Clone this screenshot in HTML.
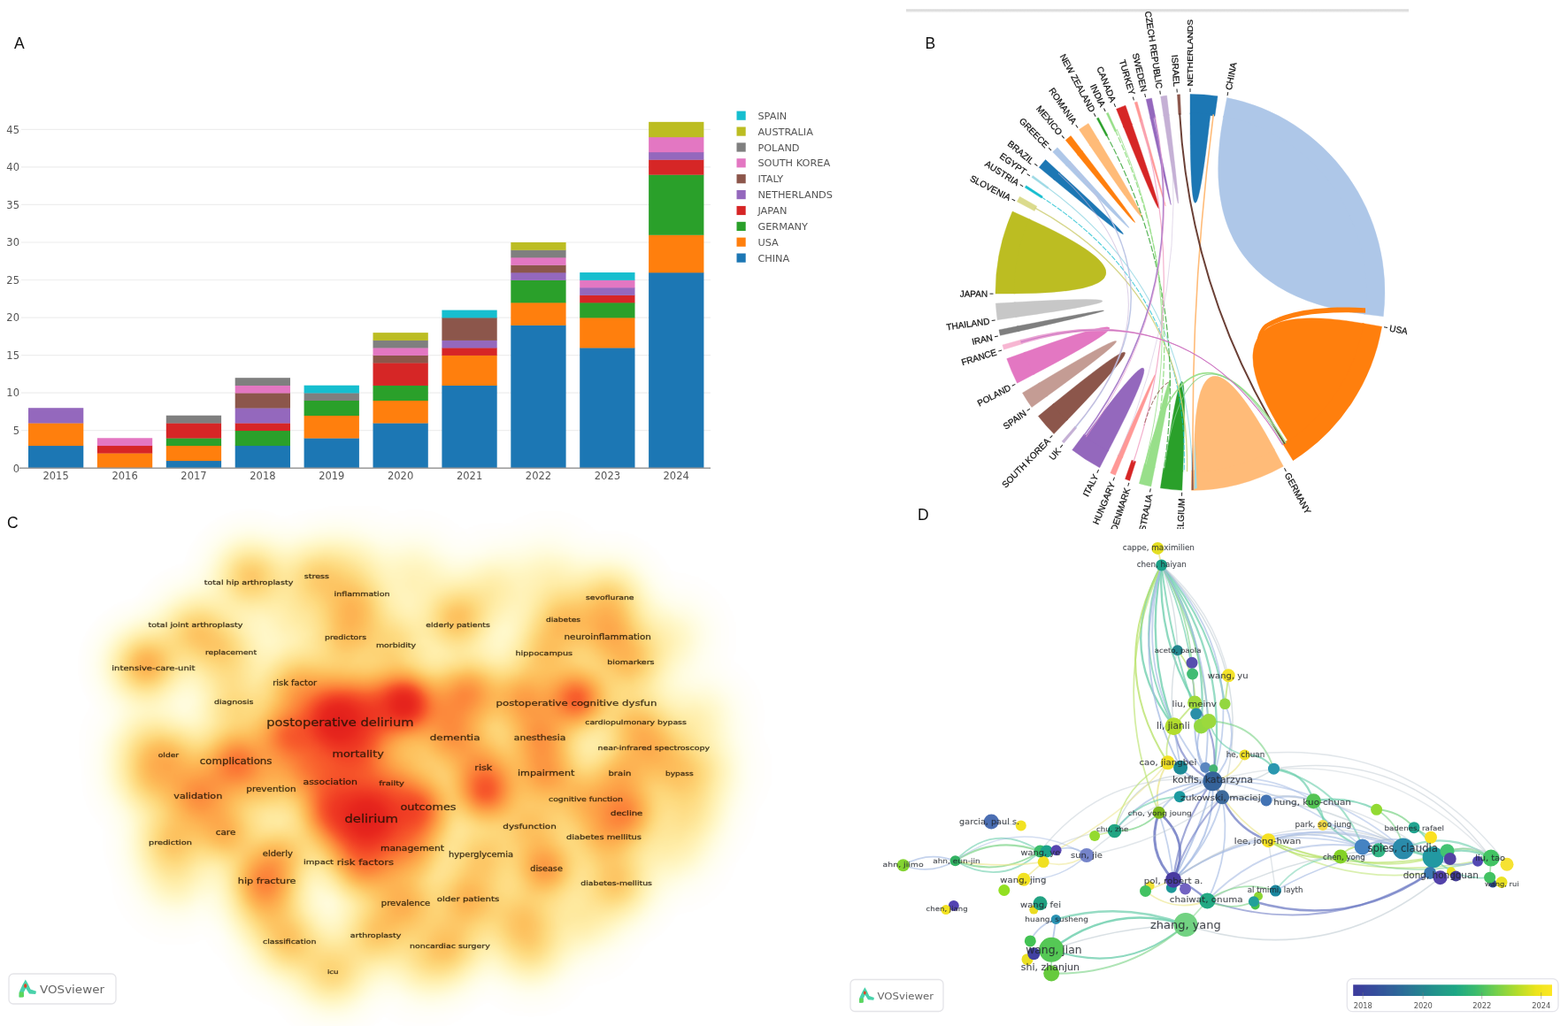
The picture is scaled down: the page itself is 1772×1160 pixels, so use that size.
<!DOCTYPE html>
<html lang="en"><head><meta charset="utf-8"><title>Figure</title>
<style>
html,body{margin:0;padding:0;background:#fff;}
body{width:1772px;height:1160px;overflow:hidden;position:relative;font-family:"Liberation Sans",sans-serif;}
svg{position:absolute;left:0;top:0;display:block;}
</style></head><body>
<svg width="1772" height="1160" viewBox="0 0 1772 1160">
<defs>
<filter id="soft" x="-5%" y="-20%" width="110%" height="140%"><feGaussianBlur stdDeviation="0.55"/></filter>
<filter id="soft2" x="-5%" y="-5%" width="110%" height="110%"><feGaussianBlur stdDeviation="0.5"/></filter>
</defs>
<rect width="1772" height="1160" fill="#ffffff"/>
<g id="panelA">
<text x="16" y="55" font-family="Liberation Sans, sans-serif" font-size="17.5" fill="#111">A</text>
<line x1="24" x2="803" y1="486.7" y2="486.7" stroke="#eeeeee" stroke-width="1.2"/>
<line x1="24" x2="803" y1="444.2" y2="444.2" stroke="#eeeeee" stroke-width="1.2"/>
<line x1="24" x2="803" y1="401.6" y2="401.6" stroke="#eeeeee" stroke-width="1.2"/>
<line x1="24" x2="803" y1="359.1" y2="359.1" stroke="#eeeeee" stroke-width="1.2"/>
<line x1="24" x2="803" y1="316.5" y2="316.5" stroke="#eeeeee" stroke-width="1.2"/>
<line x1="24" x2="803" y1="274.0" y2="274.0" stroke="#eeeeee" stroke-width="1.2"/>
<line x1="24" x2="803" y1="231.4" y2="231.4" stroke="#eeeeee" stroke-width="1.2"/>
<line x1="24" x2="803" y1="188.9" y2="188.9" stroke="#eeeeee" stroke-width="1.2"/>
<line x1="24" x2="803" y1="146.3" y2="146.3" stroke="#eeeeee" stroke-width="1.2"/>
<g font-family="DejaVu Sans, Verdana, sans-serif" font-size="11.5" fill="#555" filter="url(#soft)">
<text x="22" y="533.5" text-anchor="end">0</text>
<text x="22" y="490.9" text-anchor="end">5</text>
<text x="22" y="448.4" text-anchor="end">10</text>
<text x="22" y="405.8" text-anchor="end">15</text>
<text x="22" y="363.3" text-anchor="end">20</text>
<text x="22" y="320.7" text-anchor="end">25</text>
<text x="22" y="278.2" text-anchor="end">30</text>
<text x="22" y="235.6" text-anchor="end">35</text>
<text x="22" y="193.1" text-anchor="end">40</text>
<text x="22" y="150.5" text-anchor="end">45</text>
<text x="63.1" y="542.3" text-anchor="middle">2015</text>
<text x="141.1" y="542.3" text-anchor="middle">2016</text>
<text x="219.0" y="542.3" text-anchor="middle">2017</text>
<text x="296.9" y="542.3" text-anchor="middle">2018</text>
<text x="374.8" y="542.3" text-anchor="middle">2019</text>
<text x="452.6" y="542.3" text-anchor="middle">2020</text>
<text x="530.6" y="542.3" text-anchor="middle">2021</text>
<text x="608.5" y="542.3" text-anchor="middle">2022</text>
<text x="686.4" y="542.3" text-anchor="middle">2023</text>
<text x="764.2" y="542.3" text-anchor="middle">2024</text>
</g>
<g filter="url(#soft2)">
<rect x="32.0" y="503.77" width="62.3" height="25.83" fill="#1f77b4"/>
<rect x="32.0" y="478.24" width="62.3" height="25.83" fill="#ff7f0e"/>
<rect x="32.0" y="461.22" width="62.3" height="17.32" fill="#9467bd"/>
<rect x="109.9" y="512.28" width="62.3" height="17.32" fill="#ff7f0e"/>
<rect x="109.9" y="503.77" width="62.3" height="8.81" fill="#d62728"/>
<rect x="109.9" y="495.26" width="62.3" height="8.81" fill="#e377c2"/>
<rect x="187.8" y="520.79" width="62.3" height="8.81" fill="#1f77b4"/>
<rect x="187.8" y="503.77" width="62.3" height="17.32" fill="#ff7f0e"/>
<rect x="187.8" y="495.26" width="62.3" height="8.81" fill="#2ca02c"/>
<rect x="187.8" y="478.24" width="62.3" height="17.32" fill="#d62728"/>
<rect x="187.8" y="469.73" width="62.3" height="8.81" fill="#7f7f7f"/>
<rect x="265.7" y="503.77" width="62.3" height="25.83" fill="#1f77b4"/>
<rect x="265.7" y="486.75" width="62.3" height="17.32" fill="#2ca02c"/>
<rect x="265.7" y="478.24" width="62.3" height="8.81" fill="#d62728"/>
<rect x="265.7" y="461.22" width="62.3" height="17.32" fill="#9467bd"/>
<rect x="265.7" y="444.20" width="62.3" height="17.32" fill="#8c564b"/>
<rect x="265.7" y="435.69" width="62.3" height="8.81" fill="#e377c2"/>
<rect x="265.7" y="427.18" width="62.3" height="8.81" fill="#7f7f7f"/>
<rect x="343.6" y="495.26" width="62.3" height="34.34" fill="#1f77b4"/>
<rect x="343.6" y="469.73" width="62.3" height="25.83" fill="#ff7f0e"/>
<rect x="343.6" y="452.71" width="62.3" height="17.32" fill="#2ca02c"/>
<rect x="343.6" y="444.20" width="62.3" height="8.81" fill="#7f7f7f"/>
<rect x="343.6" y="435.69" width="62.3" height="8.81" fill="#17becf"/>
<rect x="421.5" y="478.24" width="62.3" height="51.36" fill="#1f77b4"/>
<rect x="421.5" y="452.71" width="62.3" height="25.83" fill="#ff7f0e"/>
<rect x="421.5" y="435.69" width="62.3" height="17.32" fill="#2ca02c"/>
<rect x="421.5" y="410.16" width="62.3" height="25.83" fill="#d62728"/>
<rect x="421.5" y="401.65" width="62.3" height="8.81" fill="#8c564b"/>
<rect x="421.5" y="393.14" width="62.3" height="8.81" fill="#e377c2"/>
<rect x="421.5" y="384.63" width="62.3" height="8.81" fill="#7f7f7f"/>
<rect x="421.5" y="376.12" width="62.3" height="8.81" fill="#bcbd22"/>
<rect x="499.4" y="435.69" width="62.3" height="93.91" fill="#1f77b4"/>
<rect x="499.4" y="401.65" width="62.3" height="34.34" fill="#ff7f0e"/>
<rect x="499.4" y="393.14" width="62.3" height="8.81" fill="#d62728"/>
<rect x="499.4" y="384.63" width="62.3" height="8.81" fill="#9467bd"/>
<rect x="499.4" y="359.10" width="62.3" height="25.83" fill="#8c564b"/>
<rect x="499.4" y="350.59" width="62.3" height="8.81" fill="#17becf"/>
<rect x="577.3" y="367.61" width="62.3" height="161.99" fill="#1f77b4"/>
<rect x="577.3" y="342.08" width="62.3" height="25.83" fill="#ff7f0e"/>
<rect x="577.3" y="316.55" width="62.3" height="25.83" fill="#2ca02c"/>
<rect x="577.3" y="308.04" width="62.3" height="8.81" fill="#9467bd"/>
<rect x="577.3" y="299.53" width="62.3" height="8.81" fill="#8c564b"/>
<rect x="577.3" y="291.02" width="62.3" height="8.81" fill="#e377c2"/>
<rect x="577.3" y="282.51" width="62.3" height="8.81" fill="#7f7f7f"/>
<rect x="577.3" y="274.00" width="62.3" height="8.81" fill="#bcbd22"/>
<rect x="655.2" y="393.14" width="62.3" height="136.46" fill="#1f77b4"/>
<rect x="655.2" y="359.10" width="62.3" height="34.34" fill="#ff7f0e"/>
<rect x="655.2" y="342.08" width="62.3" height="17.32" fill="#2ca02c"/>
<rect x="655.2" y="333.57" width="62.3" height="8.81" fill="#d62728"/>
<rect x="655.2" y="325.06" width="62.3" height="8.81" fill="#9467bd"/>
<rect x="655.2" y="316.55" width="62.3" height="8.81" fill="#e377c2"/>
<rect x="655.2" y="308.04" width="62.3" height="8.81" fill="#17becf"/>
<rect x="733.1" y="308.04" width="62.3" height="221.56" fill="#1f77b4"/>
<rect x="733.1" y="265.49" width="62.3" height="42.85" fill="#ff7f0e"/>
<rect x="733.1" y="197.41" width="62.3" height="68.38" fill="#2ca02c"/>
<rect x="733.1" y="180.39" width="62.3" height="17.32" fill="#d62728"/>
<rect x="733.1" y="171.88" width="62.3" height="8.81" fill="#9467bd"/>
<rect x="733.1" y="154.86" width="62.3" height="17.32" fill="#e377c2"/>
<rect x="733.1" y="137.84" width="62.3" height="17.32" fill="#bcbd22"/>
<line x1="22" x2="803" y1="529.3" y2="529.3" stroke="#999" stroke-width="1.6"/>
<rect x="832.5" y="125.6" width="10.2" height="10.2" fill="#17becf"/>
<rect x="832.5" y="143.5" width="10.2" height="10.2" fill="#bcbd22"/>
<rect x="832.5" y="161.4" width="10.2" height="10.2" fill="#7f7f7f"/>
<rect x="832.5" y="179.2" width="10.2" height="10.2" fill="#e377c2"/>
<rect x="832.5" y="197.1" width="10.2" height="10.2" fill="#8c564b"/>
<rect x="832.5" y="215.0" width="10.2" height="10.2" fill="#9467bd"/>
<rect x="832.5" y="232.9" width="10.2" height="10.2" fill="#d62728"/>
<rect x="832.5" y="250.8" width="10.2" height="10.2" fill="#2ca02c"/>
<rect x="832.5" y="268.6" width="10.2" height="10.2" fill="#ff7f0e"/>
<rect x="832.5" y="286.5" width="10.2" height="10.2" fill="#1f77b4"/>
</g>
<g font-family="DejaVu Sans, Verdana, sans-serif" font-size="11.3" fill="#555" filter="url(#soft)">
<text x="856.4" y="134.8">SPAIN</text>
<text x="856.4" y="152.7">AUSTRALIA</text>
<text x="856.4" y="170.6">POLAND</text>
<text x="856.4" y="188.4">SOUTH KOREA</text>
<text x="856.4" y="206.3">ITALY</text>
<text x="856.4" y="224.2">NETHERLANDS</text>
<text x="856.4" y="242.1">JAPAN</text>
<text x="856.4" y="260.0">GERMANY</text>
<text x="856.4" y="277.8">USA</text>
<text x="856.4" y="295.7">CHINA</text>
</g>
</g>
<g id="panelB">
<defs><linearGradient id="topbar" x1="0" y1="0" x2="0" y2="1"><stop offset="0" stop-color="#cfcfcf"/><stop offset="1" stop-color="#f4f4f4"/></linearGradient><clipPath id="clipB"><rect x="1000" y="0" width="700" height="598"/></clipPath></defs>
<rect x="1024" y="10.5" width="568" height="3.5" fill="url(#topbar)"/>
<text x="1045.5" y="55" font-family="Liberation Sans, sans-serif" font-size="17.5" fill="#111">B</text>
<g clip-path="url(#clipB)"><g transform="translate(1345,330.5) scale(0.9888,1.0067) translate(-1346.7,-330)">
<g filter="url(#soft2)">
<path d="M1346.7,107.5 A222.5,222.5 0 0 1 1378.1,109.7 L1374.9,132.0 A201.5,201.5 0 0 0 1346.7,130.0Z" fill="#1f77b4" stroke="#1f77b4" stroke-width="0.4"/>
<path d="M1346.7,128.5 A201.5,201.5 0 0 1 1369.9,129.8 Q1346.7,330.0 1346.7,128.5Z" fill="#1f77b4" stroke="#1f77b4" stroke-width="0.4"/>
<path d="M1388.8,111.5 A222.5,222.5 0 0 1 1567.5,357.1 L1545.2,354.4 A201.5,201.5 0 0 0 1384.5,133.6Z" fill="#aec7e8" stroke="#aec7e8" stroke-width="0.4"/>
<path d="M1384.8,132.1 A201.5,201.5 0 0 1 1546.7,354.6 Q1346.7,330.0 1384.8,132.1Z" fill="#aec7e8" stroke="#aec7e8" stroke-width="0.4"/>
<path d="M1565.8,368.6 A222.5,222.5 0 0 1 1464.3,518.9 L1452.4,499.8 A201.5,201.5 0 0 0 1543.7,364.7Z" fill="#ff7f0e" stroke="#ff7f0e" stroke-width="0.4"/>
<path d="M1545.1,365.0 A201.5,201.5 0 0 1 1458.8,497.4 Q1346.7,330.0 1545.1,365.0Z" fill="#ff7f0e" stroke="#ff7f0e" stroke-width="0.4"/>
<path d="M1453.2,525.4 A222.5,222.5 0 0 1 1348.3,552.5 L1348.1,530.0 A201.5,201.5 0 0 0 1442.4,505.6Z" fill="#ffbb78" stroke="#ffbb78" stroke-width="0.4"/>
<path d="M1443.2,506.9 A201.5,201.5 0 0 1 1351.6,531.4 Q1346.7,330.0 1443.2,506.9Z" fill="#ffbb78" stroke="#ffbb78" stroke-width="0.4"/>
<path d="M1337.4,552.3 A222.5,222.5 0 0 1 1312.7,549.9 L1316.1,527.6 A201.5,201.5 0 0 0 1338.3,529.8Z" fill="#2ca02c" stroke="#2ca02c" stroke-width="0.4"/>
<path d="M1338.3,531.3 A201.5,201.5 0 0 1 1317.3,529.3 Q1346.7,330.0 1338.3,531.3Z" fill="#2ca02c" stroke="#2ca02c" stroke-width="0.4"/>
<path d="M1302.0,548.0 A222.5,222.5 0 0 1 1288.4,544.7 L1294.3,523.0 A201.5,201.5 0 0 0 1306.5,525.9Z" fill="#98df8a" stroke="#98df8a" stroke-width="0.4"/>
<path d="M1306.2,527.4 A201.5,201.5 0 0 1 1295.9,525.0 Q1346.7,330.0 1306.2,527.4Z" fill="#98df8a" stroke="#98df8a" stroke-width="0.4"/>
<path d="M1277.6,541.5 A222.5,222.5 0 0 1 1272.4,539.7 L1279.9,518.5 A201.5,201.5 0 0 0 1284.6,520.1Z" fill="#d62728" stroke="#d62728" stroke-width="0.4"/>
<path d="M1261.2,535.4 A222.5,222.5 0 0 1 1255.5,532.9 L1264.7,512.4 A201.5,201.5 0 0 0 1269.8,514.6Z" fill="#ff9896" stroke="#ff9896" stroke-width="0.4"/>
<path d="M1269.3,516.0 A201.5,201.5 0 0 1 1264.1,513.8 Q1346.7,330.0 1269.3,516.0Z" fill="#ff9896" stroke="#ff9896" stroke-width="0.4"/>
<path d="M1243.3,527.0 A222.5,222.5 0 0 1 1211.9,507.0 L1225.5,489.1 A201.5,201.5 0 0 0 1253.7,507.1Z" fill="#9467bd" stroke="#9467bd" stroke-width="0.4"/>
<path d="M1253.0,508.4 A201.5,201.5 0 0 1 1226.6,491.8 Q1346.7,330.0 1253.0,508.4Z" fill="#9467bd" stroke="#9467bd" stroke-width="0.4"/>
<path d="M1202.5,499.4 A222.5,222.5 0 0 1 1200.1,497.4 L1215.0,480.5 A201.5,201.5 0 0 0 1217.1,482.3Z" fill="#c5b0d5" stroke="#c5b0d5" stroke-width="0.4"/>
<path d="M1191.0,489.0 A222.5,222.5 0 0 1 1173.1,469.1 L1190.6,455.0 A201.5,201.5 0 0 0 1206.8,472.9Z" fill="#8c564b" stroke="#8c564b" stroke-width="0.4"/>
<path d="M1205.7,474.0 A201.5,201.5 0 0 1 1189.4,456.0 Q1346.7,330.0 1205.7,474.0Z" fill="#8c564b" stroke="#8c564b" stroke-width="0.4"/>
<path d="M1165.6,459.2 A222.5,222.5 0 0 1 1155.0,442.9 L1174.4,431.5 A201.5,201.5 0 0 0 1183.9,446.1Z" fill="#c49c94" stroke="#c49c94" stroke-width="0.4"/>
<path d="M1182.7,447.0 A201.5,201.5 0 0 1 1173.1,432.3 Q1346.7,330.0 1182.7,447.0Z" fill="#c49c94" stroke="#c49c94" stroke-width="0.4"/>
<path d="M1149.0,432.0 A222.5,222.5 0 0 1 1137.1,404.6 L1158.3,397.1 A201.5,201.5 0 0 0 1169.0,421.7Z" fill="#e377c2" stroke="#e377c2" stroke-width="0.4"/>
<path d="M1167.6,422.4 A201.5,201.5 0 0 1 1156.9,397.6 Q1346.7,330.0 1167.6,422.4Z" fill="#e377c2" stroke="#e377c2" stroke-width="0.4"/>
<path d="M1133.7,394.3 A222.5,222.5 0 0 1 1132.2,389.1 L1153.9,383.1 A201.5,201.5 0 0 0 1155.2,387.8Z" fill="#f7b6d2" stroke="#f7b6d2" stroke-width="0.4"/>
<path d="M1129.6,378.5 A222.5,222.5 0 0 1 1128.2,372.1 L1150.3,367.8 A201.5,201.5 0 0 0 1151.5,373.6Z" fill="#7f7f7f" stroke="#7f7f7f" stroke-width="0.4"/>
<path d="M1150.1,374.0 A201.5,201.5 0 0 1 1148.8,368.1 Q1346.7,330.0 1150.1,374.0Z" fill="#7f7f7f" stroke="#7f7f7f" stroke-width="0.4"/>
<path d="M1126.4,361.0 A222.5,222.5 0 0 1 1124.5,342.4 L1147.0,341.2 A201.5,201.5 0 0 0 1148.6,357.8Z" fill="#c7c7c7" stroke="#c7c7c7" stroke-width="0.4"/>
<path d="M1147.2,358.0 A201.5,201.5 0 0 1 1145.5,341.2 Q1346.7,330.0 1147.2,358.0Z" fill="#c7c7c7" stroke="#c7c7c7" stroke-width="0.4"/>
<path d="M1124.2,331.6 A222.5,222.5 0 0 1 1143.6,239.1 L1164.1,248.3 A201.5,201.5 0 0 0 1146.7,331.4Z" fill="#bcbd22" stroke="#bcbd22" stroke-width="0.4"/>
<path d="M1145.2,331.4 A201.5,201.5 0 0 1 1162.8,247.7 Q1346.7,330.0 1145.2,331.4Z" fill="#bcbd22" stroke="#bcbd22" stroke-width="0.4"/>
<path d="M1148.8,228.3 A222.5,222.5 0 0 1 1151.9,222.5 L1171.6,233.3 A201.5,201.5 0 0 0 1168.8,238.6Z" fill="#dbdb8d" stroke="#dbdb8d" stroke-width="0.4"/>
<path d="M1157.8,212.4 A222.5,222.5 0 0 1 1159.3,210.1 L1178.2,222.2 A201.5,201.5 0 0 0 1176.9,224.3Z" fill="#17becf" stroke="#17becf" stroke-width="0.4"/>
<path d="M1165.6,200.8 A222.5,222.5 0 0 1 1166.9,198.9 L1185.1,212.2 A201.5,201.5 0 0 0 1183.9,213.9Z" fill="#9edae5" stroke="#9edae5" stroke-width="0.4"/>
<path d="M1174.0,189.7 A222.5,222.5 0 0 1 1181.4,181.1 L1198.1,196.2 A201.5,201.5 0 0 0 1191.5,203.9Z" fill="#1f77b4" stroke="#1f77b4" stroke-width="0.4"/>
<path d="M1190.3,202.9 A201.5,201.5 0 0 1 1197.0,195.2 Q1346.7,330.0 1190.3,202.9Z" fill="#1f77b4" stroke="#1f77b4" stroke-width="0.4"/>
<path d="M1189.6,172.4 A222.5,222.5 0 0 1 1195.0,167.3 L1210.3,183.7 A201.5,201.5 0 0 0 1205.5,188.3Z" fill="#aec7e8" stroke="#aec7e8" stroke-width="0.4"/>
<path d="M1204.5,187.3 A201.5,201.5 0 0 1 1209.3,182.6 Q1346.7,330.0 1204.5,187.3Z" fill="#aec7e8" stroke="#aec7e8" stroke-width="0.4"/>
<path d="M1204.3,159.1 A222.5,222.5 0 0 1 1210.3,154.2 L1224.1,172.0 A201.5,201.5 0 0 0 1218.7,176.3Z" fill="#ff7f0e" stroke="#ff7f0e" stroke-width="0.4"/>
<path d="M1217.7,175.2 A201.5,201.5 0 0 1 1223.2,170.8 Q1346.7,330.0 1217.7,175.2Z" fill="#ff7f0e" stroke="#ff7f0e" stroke-width="0.4"/>
<path d="M1219.7,147.3 A222.5,222.5 0 0 1 1230.4,140.3 L1242.2,159.5 A201.5,201.5 0 0 0 1232.6,165.8Z" fill="#ffbb78" stroke="#ffbb78" stroke-width="0.4"/>
<path d="M1231.7,164.5 A201.5,201.5 0 0 1 1241.4,158.2 Q1346.7,330.0 1231.7,164.5Z" fill="#ffbb78" stroke="#ffbb78" stroke-width="0.4"/>
<path d="M1239.9,134.8 A222.5,222.5 0 0 1 1241.9,133.7 L1252.5,153.6 A201.5,201.5 0 0 0 1250.7,154.6Z" fill="#2ca02c" stroke="#2ca02c" stroke-width="0.4"/>
<path d="M1250.9,129.2 A222.5,222.5 0 0 1 1253.0,128.2 L1262.5,148.6 A201.5,201.5 0 0 0 1260.6,149.5Z" fill="#98df8a" stroke="#98df8a" stroke-width="0.4"/>
<path d="M1262.3,124.1 A222.5,222.5 0 0 1 1272.8,120.1 L1280.3,141.4 A201.5,201.5 0 0 0 1270.8,145.0Z" fill="#d62728" stroke="#d62728" stroke-width="0.4"/>
<path d="M1270.2,143.6 A201.5,201.5 0 0 1 1279.8,139.9 Q1346.7,330.0 1270.2,143.6Z" fill="#d62728" stroke="#d62728" stroke-width="0.4"/>
<path d="M1283.1,116.8 A222.5,222.5 0 0 1 1286.1,115.9 L1292.2,137.6 A201.5,201.5 0 0 0 1289.6,138.3Z" fill="#ff9896" stroke="#ff9896" stroke-width="0.4"/>
<path d="M1289.1,136.9 A201.5,201.5 0 0 1 1291.8,136.1 Q1346.7,330.0 1289.1,136.9Z" fill="#ff9896" stroke="#ff9896" stroke-width="0.4"/>
<path d="M1296.3,113.3 A222.5,222.5 0 0 1 1302.7,111.9 L1307.2,133.9 A201.5,201.5 0 0 0 1301.4,135.2Z" fill="#9467bd" stroke="#9467bd" stroke-width="0.4"/>
<path d="M1301.0,133.7 A201.5,201.5 0 0 1 1304.5,133.0 Q1346.7,330.0 1301.0,133.7Z" fill="#9467bd" stroke="#9467bd" stroke-width="0.4"/>
<path d="M1313.0,110.1 A222.5,222.5 0 0 1 1320.0,109.1 L1322.7,131.4 A201.5,201.5 0 0 0 1316.4,132.3Z" fill="#c5b0d5" stroke="#c5b0d5" stroke-width="0.4"/>
<path d="M1316.2,130.8 A201.5,201.5 0 0 1 1322.5,130.0 Q1346.7,330.0 1316.2,130.8Z" fill="#c5b0d5" stroke="#c5b0d5" stroke-width="0.4"/>
<path d="M1332.0,108.0 A222.5,222.5 0 0 1 1335.1,107.8 L1336.2,130.3 A201.5,201.5 0 0 0 1333.4,130.4Z" fill="#8c564b" stroke="#8c564b" stroke-width="0.4"/>
</g>
<g filter="url(#soft2)" id="links">
<path d="M1183.3,212.1 Q1346.7,330.0 1348.8,531.5" fill="none" stroke="#9edae5" stroke-width="1.1" opacity="0.9"/>
<path d="M1176.2,222.6 Q1346.7,330.0 1339.7,531.4" fill="none" stroke="#17becf" stroke-width="1.1" opacity="0.75" stroke-dasharray="6 1.5"/>
<path d="M1169.0,235.1 Q1346.7,330.0 1343.2,531.5" fill="none" stroke="#d2d27e" stroke-width="1.4" opacity="0.9"/>
<path d="M1208.3,183.6 Q1346.7,330.0 1215.0,482.5" fill="none" stroke="#b9c3e4" stroke-width="1.4" opacity="0.95"/>
<path d="M1214.5,482.1 Q1346.7,330.0 1196.0,196.2" fill="none" stroke="#c5b0d5" stroke-width="1.0" opacity="0.6"/>
<path d="M1250.9,152.8 Q1346.7,330.0 1316.6,529.2" fill="none" stroke="#2ca02c" stroke-width="1.2" opacity="0.8" stroke-dasharray="7 2"/>
<path d="M1260.9,147.7 Q1346.7,330.0 1301.4,526.3" fill="none" stroke="#98df8a" stroke-width="1.3" opacity="0.95" stroke-dasharray="7 2"/>
<path d="M1262.8,146.8 Q1346.7,330.0 1294.5,524.6" fill="none" stroke="#98df8a" stroke-width="1.0" opacity="0.8"/>
<path d="M1290.8,136.4 Q1346.7,330.0 1281.8,520.7" fill="none" stroke="#f2a6c6" stroke-width="1.2" opacity="0.9"/>
<path d="M1305.8,132.7 Q1346.7,330.0 1225.4,490.9" fill="none" stroke="#a77bc9" stroke-width="1.6" opacity="0.95"/>
<path d="M1306.9,132.5 Q1346.7,330.0 1227.7,492.6" fill="none" stroke="#e79bd0" stroke-width="0.9" opacity="0.8"/>
<path d="M1321.8,130.0 Q1346.7,330.0 1264.7,514.1" fill="none" stroke="#c5b0d5" stroke-width="0.8" opacity="0.6"/>
<path d="M1373.3,130.3 Q1346.7,330.0 1350.2,531.5" fill="none" stroke="#ffbb78" stroke-width="1.6" opacity="1"/>
<path d="M1334.7,128.9 Q1346.7,330.0 1454.7,500.1" fill="none" stroke="#6b3f36" stroke-width="2.0" opacity="1"/>
<path d="M1294.9,524.7 Q1346.7,330.0 1456.1,499.2" fill="none" stroke="#98df8a" stroke-width="1.6" opacity="0.95"/>
<path d="M1316.2,529.2 Q1346.7,330.0 1453.8,500.7" fill="none" stroke="#7fcf86" stroke-width="1.0" opacity="0.8"/>
<path d="M1153.8,388.2 A201.5,201.5 0 0 1 1152.4,383.5 Q1346.7,330.0 1452.9,501.3 A201.5,201.5 0 0 1 1452.0,501.8 Q1346.7,330.0 1153.8,388.2Z" fill="#e9a3d3" opacity="1"/>
<path d="M1153.1,385.9 Q1346.7,330.0 1452.6,501.4" fill="none" stroke="#c86fc0" stroke-width="1.0" opacity="0.9"/>
<path d="M1322,431 Q1306,440 1294,479" fill="none" stroke="#8c564b" stroke-width="1" stroke-dasharray="5 2" opacity="0.8"/>
<path d="M1349.5,500 L1350.5,552 L1348.3,552 Z" fill="#8c564b"/>
<path d="M1352,495 L1354.5,550 L1351.5,551 Z" fill="#9edae5"/>
<path d="M1547,347.6 L1547,353 C1500,351 1462,354.5 1436,369 C1427,375 1423.5,386 1423,397 C1421.5,385 1424,373 1432,366 C1456,350 1500,344.5 1547,347.6 Z" fill="#ff7f0e"/>
</g>
<g font-family="Liberation Sans, Arial, sans-serif" font-size="10.1" fill="#111" stroke="#111" stroke-width="0.25" filter="url(#soft)">
<line x1="1346.7" y1="105.0" x2="1346.7" y2="101.0" stroke="#222" stroke-width="1"/>
<text transform="translate(1346.7,98.5) rotate(-90.0)" dy="3.5">NETHERLANDS</text>
<line x1="1389.2" y1="109.1" x2="1390.0" y2="105.1" stroke="#222" stroke-width="1"/>
<text transform="translate(1390.5,102.7) rotate(-79.1)" dy="3.5">CHINA</text>
<line x1="1568.3" y1="369.1" x2="1572.2" y2="369.8" stroke="#222" stroke-width="1"/>
<text transform="translate(1574.7,370.2) rotate(10.0)" dy="3.5">USA</text>
<line x1="1454.4" y1="527.5" x2="1456.3" y2="531.1" stroke="#222" stroke-width="1"/>
<text transform="translate(1457.5,533.3) rotate(61.4)" dy="3.5">GERMANY</text>
<line x1="1337.3" y1="554.8" x2="1337.1" y2="558.8" stroke="#222" stroke-width="1"/>
<text transform="translate(1337.0,561.3) rotate(272.4)" dy="3.5" text-anchor="end">BELGIUM</text>
<line x1="1301.5" y1="550.4" x2="1300.7" y2="554.3" stroke="#222" stroke-width="1"/>
<text transform="translate(1300.2,556.8) rotate(281.6)" dy="3.5" text-anchor="end">AUSTRALIA</text>
<line x1="1276.8" y1="543.9" x2="1275.6" y2="547.7" stroke="#222" stroke-width="1"/>
<text transform="translate(1274.8,550.0) rotate(288.1)" dy="3.5" text-anchor="end">DENMARK</text>
<line x1="1260.2" y1="537.7" x2="1258.7" y2="541.4" stroke="#222" stroke-width="1"/>
<text transform="translate(1257.7,543.7) rotate(292.6)" dy="3.5" text-anchor="end">HUNGARY</text>
<line x1="1242.1" y1="529.2" x2="1240.3" y2="532.8" stroke="#222" stroke-width="1"/>
<text transform="translate(1239.1,535.0) rotate(297.7)" dy="3.5" text-anchor="end">ITALY</text>
<line x1="1200.9" y1="501.3" x2="1198.3" y2="504.4" stroke="#222" stroke-width="1"/>
<text transform="translate(1196.7,506.3) rotate(310.4)" dy="3.5" text-anchor="end">UK</text>
<line x1="1189.3" y1="490.8" x2="1186.5" y2="493.6" stroke="#222" stroke-width="1"/>
<text transform="translate(1184.7,495.4) rotate(314.4)" dy="3.5" text-anchor="end">SOUTH KOREA</text>
<line x1="1163.5" y1="460.7" x2="1160.3" y2="463.0" stroke="#222" stroke-width="1"/>
<text transform="translate(1158.2,464.4) rotate(324.5)" dy="3.5" text-anchor="end">SPAIN</text>
<line x1="1146.8" y1="433.2" x2="1143.2" y2="435.0" stroke="#222" stroke-width="1"/>
<text transform="translate(1141.0,436.2) rotate(332.7)" dy="3.5" text-anchor="end">POLAND</text>
<line x1="1131.3" y1="395.0" x2="1127.5" y2="396.2" stroke="#222" stroke-width="1"/>
<text transform="translate(1125.1,396.9) rotate(343.2)" dy="3.5" text-anchor="end">FRANCE</text>
<line x1="1127.1" y1="379.1" x2="1123.2" y2="380.0" stroke="#222" stroke-width="1"/>
<text transform="translate(1120.8,380.5) rotate(347.4)" dy="3.5" text-anchor="end">IRAN</text>
<line x1="1123.9" y1="361.3" x2="1119.9" y2="361.9" stroke="#222" stroke-width="1"/>
<text transform="translate(1117.5,362.2) rotate(352.0)" dy="3.5" text-anchor="end">THAILAND</text>
<line x1="1121.7" y1="331.6" x2="1117.7" y2="331.6" stroke="#222" stroke-width="1"/>
<text transform="translate(1115.2,331.6) rotate(359.6)" dy="3.5" text-anchor="end">JAPAN</text>
<line x1="1146.6" y1="227.2" x2="1143.0" y2="225.3" stroke="#222" stroke-width="1"/>
<text transform="translate(1140.8,224.2) rotate(387.2)" dy="3.5" text-anchor="end">SLOVENIA</text>
<line x1="1155.7" y1="211.1" x2="1152.3" y2="209.0" stroke="#222" stroke-width="1"/>
<text transform="translate(1150.2,207.7) rotate(391.9)" dy="3.5" text-anchor="end">AUSTRIA</text>
<line x1="1163.5" y1="199.3" x2="1160.3" y2="197.0" stroke="#222" stroke-width="1"/>
<text transform="translate(1158.2,195.6) rotate(395.5)" dy="3.5" text-anchor="end">EGYPT</text>
<line x1="1172.1" y1="188.1" x2="1169.0" y2="185.6" stroke="#222" stroke-width="1"/>
<text transform="translate(1167.0,184.0) rotate(399.1)" dy="3.5" text-anchor="end">BRAZIL</text>
<line x1="1187.9" y1="170.6" x2="1185.1" y2="167.8" stroke="#222" stroke-width="1"/>
<text transform="translate(1183.3,166.0) rotate(405.1)" dy="3.5" text-anchor="end">GREECE</text>
<line x1="1202.7" y1="157.1" x2="1200.1" y2="154.1" stroke="#222" stroke-width="1"/>
<text transform="translate(1198.5,152.1) rotate(410.2)" dy="3.5" text-anchor="end">MEXICO</text>
<line x1="1218.3" y1="145.2" x2="1216.0" y2="142.0" stroke="#222" stroke-width="1"/>
<text transform="translate(1214.6,139.9) rotate(415.2)" dy="3.5" text-anchor="end">ROMANIA</text>
<line x1="1238.6" y1="132.6" x2="1236.7" y2="129.1" stroke="#222" stroke-width="1"/>
<text transform="translate(1235.5,126.9) rotate(421.3)" dy="3.5" text-anchor="end">NEW ZEALAND</text>
<line x1="1249.8" y1="126.9" x2="1248.1" y2="123.3" stroke="#222" stroke-width="1"/>
<text transform="translate(1247.0,121.1) rotate(424.5)" dy="3.5" text-anchor="end">INDIA</text>
<line x1="1261.3" y1="121.8" x2="1259.8" y2="118.1" stroke="#222" stroke-width="1"/>
<text transform="translate(1258.9,115.8) rotate(427.7)" dy="3.5" text-anchor="end">CANADA</text>
<line x1="1282.4" y1="114.4" x2="1281.3" y2="110.5" stroke="#222" stroke-width="1"/>
<text transform="translate(1280.6,108.1) rotate(433.4)" dy="3.5" text-anchor="end">TURKEY</text>
<line x1="1295.7" y1="110.9" x2="1294.8" y2="107.0" stroke="#222" stroke-width="1"/>
<text transform="translate(1294.2,104.5) rotate(436.9)" dy="3.5" text-anchor="end">SWEDEN</text>
<line x1="1312.7" y1="107.6" x2="1312.1" y2="103.6" stroke="#222" stroke-width="1"/>
<text transform="translate(1311.7,101.2) rotate(441.3)" dy="3.5" text-anchor="end">CZECH REPUBLIC</text>
<line x1="1331.8" y1="105.5" x2="1331.5" y2="101.5" stroke="#222" stroke-width="1"/>
<text transform="translate(1331.4,99.0) rotate(446.2)" dy="3.5" text-anchor="end">ISRAEL</text>
</g>
</g></g>
</g>
<g id="panelC">
<defs><radialGradient id="gk"><stop offset="0.000" stop-color="#fff" stop-opacity="1.0000"/><stop offset="0.083" stop-color="#fff" stop-opacity="0.9692"/><stop offset="0.167" stop-color="#fff" stop-opacity="0.8825"/><stop offset="0.250" stop-color="#fff" stop-opacity="0.7548"/><stop offset="0.333" stop-color="#fff" stop-opacity="0.6065"/><stop offset="0.417" stop-color="#fff" stop-opacity="0.4578"/><stop offset="0.500" stop-color="#fff" stop-opacity="0.3247"/><stop offset="0.583" stop-color="#fff" stop-opacity="0.2163"/><stop offset="0.667" stop-color="#fff" stop-opacity="0.1353"/><stop offset="0.750" stop-color="#fff" stop-opacity="0.0796"/><stop offset="0.833" stop-color="#fff" stop-opacity="0.0439"/><stop offset="0.917" stop-color="#fff" stop-opacity="0.0228"/><stop offset="1.000" stop-color="#fff" stop-opacity="0.0000"/></radialGradient>
<filter id="heat" x="0" y="572" width="890" height="588" filterUnits="userSpaceOnUse" color-interpolation-filters="sRGB"><feGaussianBlur stdDeviation="2"/><feComponentTransfer><feFuncR type="table" tableValues="1.000 1.000 1.000 1.000 1.000 1.000 1.000 1.000 0.999 0.998 0.996 0.996 0.996 0.996 0.995 0.994 0.993 0.992 0.990 0.989 0.987 0.981 0.975 0.967 0.957 0.947 0.937 0.927 0.918 0.908 0.901 0.894 0.886"/><feFuncG type="table" tableValues="1.000 0.998 0.993 0.984 0.974 0.958 0.942 0.926 0.903 0.880 0.857 0.826 0.793 0.760 0.725 0.688 0.651 0.612 0.569 0.526 0.482 0.432 0.381 0.337 0.298 0.259 0.225 0.201 0.176 0.155 0.145 0.135 0.125"/><feFuncB type="table" tableValues="1.000 0.953 0.904 0.850 0.796 0.747 0.698 0.649 0.600 0.551 0.502 0.458 0.415 0.372 0.339 0.315 0.290 0.268 0.250 0.231 0.213 0.196 0.179 0.167 0.157 0.147 0.138 0.131 0.124 0.117 0.115 0.112 0.110"/></feComponentTransfer></filter><filter id="softc" x="-5%" y="-30%" width="110%" height="160%"><feGaussianBlur stdDeviation="0.6"/></filter><clipPath id="clipC"><rect x="0" y="572" width="890" height="588"/></clipPath></defs>
<g clip-path="url(#clipC)"><g filter="url(#heat)">
<rect x="-100" y="470" width="1100" height="800" fill="#000"/>
<circle cx="382" cy="815" r="104.4" fill="url(#gk)" opacity="1.000"/>
<circle cx="422" cy="806" r="73.1" fill="url(#gk)" opacity="0.440"/>
<circle cx="325" cy="832" r="73.1" fill="url(#gk)" opacity="0.550"/>
<circle cx="375" cy="918" r="73.1" fill="url(#gk)" opacity="0.550"/>
<circle cx="475" cy="856" r="67.9" fill="url(#gk)" opacity="0.165"/>
<circle cx="345" cy="870" r="67.9" fill="url(#gk)" opacity="0.330"/>
<circle cx="457" cy="796" r="73.1" fill="url(#gk)" opacity="0.935"/>
<circle cx="415" cy="925" r="99.2" fill="url(#gk)" opacity="1.000"/>
<circle cx="472" cy="915" r="78.3" fill="url(#gk)" opacity="0.660"/>
<circle cx="405" cy="855" r="78.3" fill="url(#gk)" opacity="0.462"/>
<circle cx="549" cy="895" r="73.1" fill="url(#gk)" opacity="0.660"/>
<circle cx="652" cy="790" r="73.1" fill="url(#gk)" opacity="0.682"/>
<circle cx="545" cy="865" r="73.1" fill="url(#gk)" opacity="0.330"/>
<circle cx="410" cy="975" r="83.5" fill="url(#gk)" opacity="0.495"/>
<circle cx="465" cy="960" r="78.3" fill="url(#gk)" opacity="0.385"/>
<circle cx="298" cy="997" r="78.3" fill="url(#gk)" opacity="0.517"/>
<circle cx="318" cy="965" r="73.1" fill="url(#gk)" opacity="0.330"/>
<circle cx="268" cy="862" r="83.5" fill="url(#gk)" opacity="0.605"/>
<circle cx="224" cy="900" r="83.5" fill="url(#gk)" opacity="0.495"/>
<circle cx="306" cy="892" r="73.1" fill="url(#gk)" opacity="0.275"/>
<circle cx="373" cy="884" r="73.1" fill="url(#gk)" opacity="0.330"/>
<circle cx="333" cy="773" r="78.3" fill="url(#gk)" opacity="0.352"/>
<circle cx="513" cy="834" r="78.3" fill="url(#gk)" opacity="0.440"/>
<circle cx="610" cy="834" r="78.3" fill="url(#gk)" opacity="0.440"/>
<circle cx="617" cy="875" r="78.3" fill="url(#gk)" opacity="0.440"/>
<circle cx="617" cy="982" r="73.1" fill="url(#gk)" opacity="0.495"/>
<circle cx="708" cy="919" r="73.1" fill="url(#gk)" opacity="0.495"/>
<circle cx="660" cy="905" r="78.3" fill="url(#gk)" opacity="0.330"/>
<circle cx="600" cy="935" r="78.3" fill="url(#gk)" opacity="0.330"/>
<circle cx="545" cy="967" r="78.3" fill="url(#gk)" opacity="0.330"/>
<circle cx="700" cy="875" r="73.1" fill="url(#gk)" opacity="0.330"/>
<circle cx="682" cy="947" r="78.3" fill="url(#gk)" opacity="0.330"/>
<circle cx="768" cy="875" r="78.3" fill="url(#gk)" opacity="0.275"/>
<circle cx="738" cy="846" r="78.3" fill="url(#gk)" opacity="0.308"/>
<circle cx="718" cy="817" r="78.3" fill="url(#gk)" opacity="0.330"/>
<circle cx="442" cy="886" r="73.1" fill="url(#gk)" opacity="0.275"/>
<circle cx="530" cy="782" r="78.3" fill="url(#gk)" opacity="0.495"/>
<circle cx="590" cy="790" r="78.3" fill="url(#gk)" opacity="0.440"/>
<circle cx="500" cy="800" r="78.3" fill="url(#gk)" opacity="0.220"/>
<circle cx="165" cy="752" r="78.3" fill="url(#gk)" opacity="0.462"/>
<circle cx="255" cy="738" r="78.3" fill="url(#gk)" opacity="0.286"/>
<circle cx="221" cy="712" r="78.3" fill="url(#gk)" opacity="0.330"/>
<circle cx="283" cy="652" r="78.3" fill="url(#gk)" opacity="0.374"/>
<circle cx="358" cy="652" r="78.3" fill="url(#gk)" opacity="0.308"/>
<circle cx="402" cy="684" r="78.3" fill="url(#gk)" opacity="0.330"/>
<circle cx="390" cy="721" r="78.3" fill="url(#gk)" opacity="0.308"/>
<circle cx="447" cy="730" r="78.3" fill="url(#gk)" opacity="0.286"/>
<circle cx="264" cy="794" r="78.3" fill="url(#gk)" opacity="0.264"/>
<circle cx="190" cy="854" r="78.3" fill="url(#gk)" opacity="0.308"/>
<circle cx="255" cy="942" r="73.1" fill="url(#gk)" opacity="0.396"/>
<circle cx="192" cy="952" r="78.3" fill="url(#gk)" opacity="0.330"/>
<circle cx="517" cy="700" r="78.3" fill="url(#gk)" opacity="0.396"/>
<circle cx="636" cy="701" r="78.3" fill="url(#gk)" opacity="0.330"/>
<circle cx="689" cy="676" r="78.3" fill="url(#gk)" opacity="0.297"/>
<circle cx="688" cy="715" r="78.3" fill="url(#gk)" opacity="0.352"/>
<circle cx="615" cy="738" r="78.3" fill="url(#gk)" opacity="0.308"/>
<circle cx="713" cy="749" r="78.3" fill="url(#gk)" opacity="0.352"/>
<circle cx="458" cy="1022" r="78.3" fill="url(#gk)" opacity="0.396"/>
<circle cx="529" cy="1017" r="78.3" fill="url(#gk)" opacity="0.396"/>
<circle cx="327" cy="1064" r="78.3" fill="url(#gk)" opacity="0.352"/>
<circle cx="424" cy="1057" r="78.3" fill="url(#gk)" opacity="0.330"/>
<circle cx="508" cy="1070" r="78.3" fill="url(#gk)" opacity="0.330"/>
<circle cx="376" cy="1100" r="78.3" fill="url(#gk)" opacity="0.308"/>
<circle cx="697" cy="999" r="78.3" fill="url(#gk)" opacity="0.352"/>
<circle cx="590" cy="1040" r="83.5" fill="url(#gk)" opacity="0.330"/>
<circle cx="600" cy="1075" r="78.3" fill="url(#gk)" opacity="0.220"/>
<circle cx="480" cy="1090" r="78.3" fill="url(#gk)" opacity="0.176"/>
<circle cx="162" cy="842" r="78.3" fill="url(#gk)" opacity="0.154"/>
<circle cx="300" cy="1030" r="78.3" fill="url(#gk)" opacity="0.198"/>
<circle cx="780" cy="920" r="78.3" fill="url(#gk)" opacity="0.198"/>
<circle cx="790" cy="810" r="78.3" fill="url(#gk)" opacity="0.154"/>
<circle cx="560" cy="665" r="78.3" fill="url(#gk)" opacity="0.176"/>
<circle cx="470" cy="650" r="78.3" fill="url(#gk)" opacity="0.154"/>
<circle cx="330" cy="700" r="78.3" fill="url(#gk)" opacity="0.154"/>
<circle cx="200" cy="995" r="78.3" fill="url(#gk)" opacity="0.154"/>
<circle cx="660" cy="1040" r="78.3" fill="url(#gk)" opacity="0.176"/>
<circle cx="760" cy="960" r="78.3" fill="url(#gk)" opacity="0.154"/>
<circle cx="168" cy="882" r="78.3" fill="url(#gk)" opacity="0.264"/>
<circle cx="400" cy="640" r="78.3" fill="url(#gk)" opacity="0.132"/>
<circle cx="620" cy="650" r="78.3" fill="url(#gk)" opacity="0.132"/>
<circle cx="760" cy="720" r="78.3" fill="url(#gk)" opacity="0.132"/>
<circle cx="800" cy="870" r="78.3" fill="url(#gk)" opacity="0.132"/>
</g></g>
<text x="8" y="597" font-family="Liberation Sans, sans-serif" font-size="17.5" fill="#111">C</text>
<g font-family="DejaVu Sans, Liberation Sans, sans-serif" fill="#1a1000" fill-opacity="0.8" stroke="#1a1000" stroke-opacity="0.5" stroke-width="0.4" filter="url(#softc)">
<text x="230.8" y="661.0" font-size="7.22" textLength="100.5" lengthAdjust="spacingAndGlyphs">total hip arthroplasty</text>
<text x="343.8" y="654.0" font-size="7.22" textLength="28.2" lengthAdjust="spacingAndGlyphs">stress</text>
<text x="377.5" y="673.7" font-size="7.39" textLength="63.0" lengthAdjust="spacingAndGlyphs">inflammation</text>
<text x="167.5" y="709.2" font-size="7.39" textLength="107.0" lengthAdjust="spacingAndGlyphs">total joint arthroplasty</text>
<text x="367.0" y="723.2" font-size="7.22" textLength="47.0" lengthAdjust="spacingAndGlyphs">predictors</text>
<text x="425.0" y="732.2" font-size="7.22" textLength="45.0" lengthAdjust="spacingAndGlyphs">morbidity</text>
<text x="232.0" y="740.2" font-size="7.22" textLength="58.0" lengthAdjust="spacingAndGlyphs">replacement</text>
<text x="126.3" y="758.1" font-size="7.73" textLength="94.2" lengthAdjust="spacingAndGlyphs">intensive-care-unit</text>
<text x="308.3" y="775.2" font-size="8.06" textLength="49.7" lengthAdjust="spacingAndGlyphs">risk factor</text>
<text x="242.0" y="796.1" font-size="7.06" textLength="44.5" lengthAdjust="spacingAndGlyphs">diagnosis</text>
<text x="301.3" y="820.5" font-size="11.76" textLength="166.2" lengthAdjust="spacingAndGlyphs">postoperative delirium</text>
<text x="375.5" y="855.6" font-size="10.33" textLength="58.3" lengthAdjust="spacingAndGlyphs">mortality</text>
<text x="178.8" y="856.1" font-size="6.89" textLength="23.2" lengthAdjust="spacingAndGlyphs">older</text>
<text x="225.8" y="864.4" font-size="9.74" textLength="81.7" lengthAdjust="spacingAndGlyphs">complications</text>
<text x="662.0" y="678.1" font-size="7.06" textLength="54.5" lengthAdjust="spacingAndGlyphs">sevoflurane</text>
<text x="617.0" y="703.4" font-size="7.06" textLength="39.0" lengthAdjust="spacingAndGlyphs">diabetes</text>
<text x="481.3" y="708.6" font-size="7.06" textLength="72.5" lengthAdjust="spacingAndGlyphs">elderly patients</text>
<text x="637.5" y="722.5" font-size="8.23" textLength="98.3" lengthAdjust="spacingAndGlyphs">neuroinflammation</text>
<text x="582.5" y="740.7" font-size="7.39" textLength="64.5" lengthAdjust="spacingAndGlyphs">hippocampus</text>
<text x="686.3" y="750.9" font-size="7.06" textLength="53.2" lengthAdjust="spacingAndGlyphs">biomarkers</text>
<text x="560.5" y="798.4" font-size="9.58" textLength="182.0" lengthAdjust="spacingAndGlyphs">postoperative cognitive dysfun</text>
<text x="661.3" y="818.9" font-size="7.06" textLength="114.5" lengthAdjust="spacingAndGlyphs">cardiopulmonary bypass</text>
<text x="485.8" y="837.1" font-size="9.41" textLength="56.7" lengthAdjust="spacingAndGlyphs">dementia</text>
<text x="580.8" y="836.5" font-size="8.4" textLength="58.5" lengthAdjust="spacingAndGlyphs">anesthesia</text>
<text x="675.5" y="848.1" font-size="7.06" textLength="126.5" lengthAdjust="spacingAndGlyphs">near-infrared spectroscopy</text>
<text x="536.3" y="871.0" font-size="8.9" textLength="20.0" lengthAdjust="spacingAndGlyphs">risk</text>
<text x="585.0" y="877.0" font-size="9.07" textLength="64.3" lengthAdjust="spacingAndGlyphs">impairment</text>
<text x="687.5" y="877.4" font-size="7.9" textLength="25.8" lengthAdjust="spacingAndGlyphs">brain</text>
<text x="752.0" y="876.5" font-size="7.22" textLength="31.8" lengthAdjust="spacingAndGlyphs">bypass</text>
<text x="342.5" y="886.7" font-size="8.06" textLength="61.3" lengthAdjust="spacingAndGlyphs">association</text>
<text x="428.3" y="888.0" font-size="7.39" textLength="28.5" lengthAdjust="spacingAndGlyphs">frailty</text>
<text x="278.3" y="894.5" font-size="8.23" textLength="56.2" lengthAdjust="spacingAndGlyphs">prevention</text>
<text x="196.3" y="902.6" font-size="8.74" textLength="55.0" lengthAdjust="spacingAndGlyphs">validation</text>
<text x="452.5" y="915.6" font-size="10.42" textLength="63.0" lengthAdjust="spacingAndGlyphs">outcomes</text>
<text x="389.5" y="930.3" font-size="11.76" textLength="60.5" lengthAdjust="spacingAndGlyphs">delirium</text>
<text x="243.8" y="944.4" font-size="8.06" textLength="22.5" lengthAdjust="spacingAndGlyphs">care</text>
<text x="168.0" y="954.5" font-size="7.22" textLength="48.8" lengthAdjust="spacingAndGlyphs">prediction</text>
<text x="430.0" y="962.2" font-size="8.9" textLength="72.0" lengthAdjust="spacingAndGlyphs">management</text>
<text x="296.8" y="967.8" font-size="8.23" textLength="34.0" lengthAdjust="spacingAndGlyphs">elderly</text>
<text x="343.0" y="976.7" font-size="7.22" textLength="34.0" lengthAdjust="spacingAndGlyphs">impact</text>
<text x="380.8" y="977.7" font-size="8.9" textLength="64.2" lengthAdjust="spacingAndGlyphs">risk factors</text>
<text x="268.8" y="999.0" font-size="8.9" textLength="65.7" lengthAdjust="spacingAndGlyphs">hip fracture</text>
<text x="430.8" y="1024.2" font-size="8.06" textLength="55.5" lengthAdjust="spacingAndGlyphs">prevalence</text>
<text x="297.0" y="1066.7" font-size="7.22" textLength="60.5" lengthAdjust="spacingAndGlyphs">classification</text>
<text x="395.8" y="1059.5" font-size="7.22" textLength="57.5" lengthAdjust="spacingAndGlyphs">arthroplasty</text>
<text x="370.0" y="1101.4" font-size="6.38" textLength="12.5" lengthAdjust="spacingAndGlyphs">icu</text>
<text x="620.0" y="906.0" font-size="7.39" textLength="83.8" lengthAdjust="spacingAndGlyphs">cognitive function</text>
<text x="690.0" y="921.6" font-size="7.73" textLength="36.3" lengthAdjust="spacingAndGlyphs">decline</text>
<text x="568.3" y="936.9" font-size="7.9" textLength="60.5" lengthAdjust="spacingAndGlyphs">dysfunction</text>
<text x="640.0" y="949.1" font-size="7.73" textLength="85.0" lengthAdjust="spacingAndGlyphs">diabetes mellitus</text>
<text x="507.0" y="969.2" font-size="8.06" textLength="73.0" lengthAdjust="spacingAndGlyphs">hyperglycemia</text>
<text x="599.3" y="984.5" font-size="8.23" textLength="36.5" lengthAdjust="spacingAndGlyphs">disease</text>
<text x="656.3" y="1001.0" font-size="7.22" textLength="80.7" lengthAdjust="spacingAndGlyphs">diabetes-mellitus</text>
<text x="493.8" y="1019.1" font-size="7.73" textLength="70.5" lengthAdjust="spacingAndGlyphs">older patients</text>
<text x="463.0" y="1072.2" font-size="7.22" textLength="90.8" lengthAdjust="spacingAndGlyphs">noncardiac surgery</text>
</g>
<g filter="url(#soft2)"><rect x="10" y="1101" width="121" height="34" rx="5" fill="#fff" stroke="#e4e4e8" stroke-width="1.3"/>
<g transform="translate(10,1101.00) scale(1.0)">
<path d="M18.8,6.4 L21.5,11 L24.5,17.5 L31,19.8 L30.2,23 L23,22.6 L19.2,16.5 L16.8,21 L17,26 L11.5,26.6 L12,20 L15.4,12.5Z" fill="#48d2aa"/>
<rect x="11.6" y="20.4" width="5.2" height="6" rx="1" fill="#5cd65a"/>
<ellipse cx="18.7" cy="13.6" rx="1.7" ry="2.3" fill="#e0452a"/>
</g></g>
<text x="45.0" y="1122.6" font-family="DejaVu Sans, Liberation Sans, sans-serif" font-size="12.0" fill="#666" textLength="73.0" lengthAdjust="spacingAndGlyphs" filter="url(#soft)">VOSviewer</text>
</g>
<g id="panelD">
<defs><linearGradient id="vir" x1="0" x2="1" y1="0" y2="0"><stop offset="0" stop-color="#3c3a9c"/><stop offset="0.12" stop-color="#35509c"/><stop offset="0.25" stop-color="#2c6c98"/><stop offset="0.4" stop-color="#21908c"/><stop offset="0.52" stop-color="#1fa884"/><stop offset="0.62" stop-color="#3cbc6c"/><stop offset="0.72" stop-color="#74d04c"/><stop offset="0.82" stop-color="#b0dc2c"/><stop offset="0.92" stop-color="#ecE41c"/><stop offset="1" stop-color="#fde725"/></linearGradient><filter id="soft3" x="-5%" y="-5%" width="110%" height="110%"><feGaussianBlur stdDeviation="0.6"/></filter></defs>
<text x="1037" y="588" font-family="Liberation Sans, sans-serif" font-size="17.5" fill="#111">D</text>
<g fill="none" stroke-linecap="round" filter="url(#soft3)">
<path d="M1308.3,619.9 Q1310.4,629.4 1312.6,638.9" stroke="#ece58a" stroke-width="1.74" opacity="0.84"/>
<path d="M1312.6,638.9 Q1259.7,734.6 1326.5,821.2" stroke="#6fcfae" stroke-width="2.32" opacity="0.79"/>
<path d="M1312.6,638.9 Q1277.7,733.2 1326.5,821.2" stroke="#6fcfae" stroke-width="1.89" opacity="0.73"/>
<path d="M1312.6,638.9 Q1293.6,732.0 1326.5,821.2" stroke="#6fcfae" stroke-width="2.32" opacity="0.79"/>
<path d="M1312.6,638.9 Q1250.2,752.7 1319.7,862.3" stroke="#b9e26a" stroke-width="2.03" opacity="0.79"/>
<path d="M1312.6,638.9 Q1251.2,778.2 1309.7,918.8" stroke="#b9e26a" stroke-width="1.74" opacity="0.63"/>
<path d="M1312.6,638.9 Q1275.6,757.8 1334.1,867.8" stroke="#a3b9e2" stroke-width="1.89" opacity="0.73"/>
<path d="M1312.6,638.9 Q1308.0,722.3 1350.1,794.4" stroke="#6fcfae" stroke-width="2.32" opacity="0.79"/>
<path d="M1312.6,638.9 Q1346.9,712.9 1350.1,794.4" stroke="#6fcfae" stroke-width="1.74" opacity="0.68"/>
<path d="M1312.6,638.9 Q1322.4,725.3 1351.7,807.1" stroke="#6fcfae" stroke-width="2.03" opacity="0.73"/>
<path d="M1312.6,638.9 Q1366.1,722.3 1357.5,821.0" stroke="#6fcfae" stroke-width="2.32" opacity="0.73"/>
<path d="M1312.6,638.9 Q1358.4,721.4 1366.0,815.5" stroke="#7fd48a" stroke-width="1.74" opacity="0.63"/>
<path d="M1312.6,638.9 Q1370.3,707.3 1384.3,795.7" stroke="#6fcfae" stroke-width="2.17" opacity="0.73"/>
<path d="M1312.6,638.9 Q1392.1,749.1 1370.4,883.2" stroke="#6fcfae" stroke-width="2.32" opacity="0.73"/>
<path d="M1312.6,638.9 Q1411.6,744.5 1370.4,883.2" stroke="#a3b9e2" stroke-width="1.74" opacity="0.63"/>
<path d="M1312.6,638.9 Q1424.3,749.9 1381.2,901.3" stroke="#b8c4cc" stroke-width="1.45" opacity="0.53"/>
<path d="M1312.6,638.9 Q1329.5,685.6 1330.7,735.2" stroke="#b8c4cc" stroke-width="1.45" opacity="0.53"/>
<path d="M1312.6,638.9 Q1345.5,696.1 1347.6,762.0" stroke="#7fd48a" stroke-width="1.74" opacity="0.63"/>
<path d="M1312.6,638.9 Q1376.5,744.9 1362.2,867.8" stroke="#a3b9e2" stroke-width="1.89" opacity="0.68"/>
<path d="M1312.6,638.9 Q1371.0,688.9 1388.3,763.8" stroke="#b8c4cc" stroke-width="1.45" opacity="0.42"/>
<path d="M1312.6,638.9 Q1275.3,776.7 1370.4,883.2" stroke="#a3b9e2" stroke-width="1.89" opacity="0.63"/>
<path d="M1330.7,735.2 Q1351.8,761.1 1350.1,794.4" stroke="#b9e26a" stroke-width="1.74" opacity="0.73"/>
<path d="M1330.7,735.2 Q1320.6,777.8 1326.5,821.2" stroke="#b8c4cc" stroke-width="1.45" opacity="0.53"/>
<path d="M1347.6,762.0 Q1348.8,778.2 1350.1,794.4" stroke="#a3b9e2" stroke-width="1.45" opacity="0.53"/>
<path d="M1388.3,763.8 Q1386.3,779.8 1384.3,795.7" stroke="#b9e26a" stroke-width="1.89" opacity="0.73"/>
<path d="M1350.1,794.4 Q1338.3,807.8 1326.5,821.2" stroke="#b9e26a" stroke-width="2.03" opacity="0.73"/>
<path d="M1357.5,821.0 Q1344.4,856.2 1370.4,883.2" stroke="#a3b9e2" stroke-width="1.89" opacity="0.73"/>
<path d="M1326.5,821.2 Q1332.1,863.8 1370.4,883.2" stroke="#6b78c2" stroke-width="2.32" opacity="0.63"/>
<path d="M1326.5,821.2 Q1330.3,844.5 1334.1,867.8" stroke="#a3b9e2" stroke-width="1.74" opacity="0.63"/>
<path d="M1326.5,821.2 Q1315.2,840.4 1319.7,862.3" stroke="#b9e26a" stroke-width="1.74" opacity="0.63"/>
<path d="M1351.7,807.1 Q1345.5,849.0 1370.4,883.2" stroke="#a3b9e2" stroke-width="2.03" opacity="0.73"/>
<path d="M1384.3,795.7 Q1405.0,843.8 1370.4,883.2" stroke="#a3b9e2" stroke-width="1.89" opacity="0.63"/>
<path d="M1350.1,794.4 Q1379.7,834.3 1370.4,883.2" stroke="#6b78c2" stroke-width="2.17" opacity="0.63"/>
<path d="M1366.0,815.5 Q1421.6,816.5 1439.5,869.2" stroke="#7fd48a" stroke-width="1.89" opacity="0.63"/>
<path d="M1366.0,815.5 Q1375.4,846.2 1406.6,853.6" stroke="#6fcfae" stroke-width="1.74" opacity="0.63"/>
<path d="M1406.6,853.6 Q1427.3,852.4 1439.5,869.2" stroke="#6fcfae" stroke-width="2.17" opacity="0.73"/>
<path d="M1406.6,853.6 Q1396.1,877.7 1370.4,883.2" stroke="#ece58a" stroke-width="1.74" opacity="0.63"/>
<path d="M1439.5,869.2 Q1474.6,872.0 1484.4,905.8" stroke="#6fcfae" stroke-width="2.32" opacity="0.73"/>
<path d="M1439.5,869.2 Q1408.1,891.9 1370.4,883.2" stroke="#b8c4cc" stroke-width="1.45" opacity="0.53"/>
<path d="M1439.5,869.2 Q1513.4,886.3 1539.7,957.4" stroke="#6fcfae" stroke-width="2.03" opacity="0.63"/>
<path d="M1319.7,862.3 Q1302.9,888.5 1309.7,918.8" stroke="#ece58a" stroke-width="2.03" opacity="0.73"/>
<path d="M1319.7,862.3 Q1270.7,886.2 1259.6,939.5" stroke="#b9e26a" stroke-width="1.74" opacity="0.63"/>
<path d="M1334.1,867.8 Q1348.3,884.7 1370.4,883.2" stroke="#a3b9e2" stroke-width="1.89" opacity="0.73"/>
<path d="M1370.4,883.2 Q1375.8,892.2 1381.2,901.3" stroke="#6b78c2" stroke-width="3.19" opacity="0.84"/>
<path d="M1370.4,883.2 Q1356.9,902.8 1333.2,900.7" stroke="#a3b9e2" stroke-width="2.03" opacity="0.73"/>
<path d="M1370.4,883.2 Q1302.3,886.4 1259.6,939.5" stroke="#a3b9e2" stroke-width="1.89" opacity="0.63"/>
<path d="M1370.4,883.2 Q1287.8,857.9 1259.6,939.5" stroke="#b8c4cc" stroke-width="1.45" opacity="0.53"/>
<path d="M1370.4,883.2 Q1332.0,887.2 1309.7,918.8" stroke="#a3b9e2" stroke-width="1.89" opacity="0.63"/>
<path d="M1370.4,883.2 Q1333.3,933.0 1326.0,994.7" stroke="#6b78c2" stroke-width="2.17" opacity="0.63"/>
<path d="M1370.4,883.2 Q1355.6,941.9 1326.0,994.7" stroke="#a3b9e2" stroke-width="2.03" opacity="0.73"/>
<path d="M1370.4,883.2 Q1374.2,949.3 1326.0,994.7" stroke="#a3b9e2" stroke-width="2.03" opacity="0.73"/>
<path d="M1381.2,901.3 Q1343.3,941.9 1326.0,994.7" stroke="#6b78c2" stroke-width="2.03" opacity="0.58"/>
<path d="M1381.2,901.3 Q1367.4,956.1 1326.0,994.7" stroke="#a3b9e2" stroke-width="1.89" opacity="0.63"/>
<path d="M1381.2,901.3 Q1392.6,962.7 1364.4,1018.4" stroke="#a3b9e2" stroke-width="1.74" opacity="0.63"/>
<path d="M1309.7,918.8 Q1294.4,961.8 1326.0,994.7" stroke="#6b78c2" stroke-width="2.90" opacity="0.84"/>
<path d="M1309.7,918.8 Q1347.2,950.5 1326.0,994.7" stroke="#6b78c2" stroke-width="2.61" opacity="0.84"/>
<path d="M1309.7,918.8 Q1321.8,955.9 1326.0,994.7" stroke="#a3b9e2" stroke-width="1.74" opacity="0.63"/>
<path d="M1309.7,918.8 Q1289.2,940.2 1259.6,939.5" stroke="#7fd48a" stroke-width="1.89" opacity="0.73"/>
<path d="M1259.6,939.5 Q1287.1,902.4 1333.2,900.7" stroke="#6fcfae" stroke-width="1.89" opacity="0.63"/>
<path d="M1259.6,939.5 Q1248.3,942.2 1237.1,944.9" stroke="#b9e26a" stroke-width="1.45" opacity="0.63"/>
<path d="M1381.2,901.3 Q1396.4,937.4 1433.4,950.2" stroke="#6b78c2" stroke-width="2.46" opacity="0.73"/>
<path d="M1381.2,901.3 Q1406.1,903.1 1431.0,904.9" stroke="#a3b9e2" stroke-width="1.74" opacity="0.63"/>
<path d="M1431.0,904.9 Q1457.9,895.4 1484.4,905.8" stroke="#a3b9e2" stroke-width="2.03" opacity="0.63"/>
<path d="M1370.4,883.2 Q1432.1,871.0 1484.4,905.8" stroke="#a3b9e2" stroke-width="1.74" opacity="0.53"/>
<path d="M1370.4,883.2 Q1393.2,924.9 1433.4,950.2" stroke="#ece58a" stroke-width="1.74" opacity="0.63"/>
<path d="M1370.4,883.2 Q1492.7,879.9 1585.7,959.5" stroke="#a3b9e2" stroke-width="1.74" opacity="0.53"/>
<path d="M1370.4,883.2 Q1466.3,894.7 1539.7,957.4" stroke="#a3b9e2" stroke-width="1.74" opacity="0.53"/>
<path d="M1381.2,901.3 Q1492.2,899.6 1585.7,959.5" stroke="#b8c4cc" stroke-width="1.59" opacity="0.53"/>
<path d="M1484.4,905.8 Q1521.6,898.7 1555.6,915.3" stroke="#6fcfae" stroke-width="2.17" opacity="0.73"/>
<path d="M1484.4,905.8 Q1501.1,943.3 1539.7,957.4" stroke="#6fcfae" stroke-width="2.17" opacity="0.73"/>
<path d="M1484.4,905.8 Q1497.1,916.5 1494.9,933.0" stroke="#6fcfae" stroke-width="1.74" opacity="0.63"/>
<path d="M1555.6,915.3 Q1581.1,916.5 1598.0,935.7" stroke="#7fd48a" stroke-width="1.89" opacity="0.73"/>
<path d="M1555.6,915.3 Q1580.6,930.6 1585.7,959.5" stroke="#7fd48a" stroke-width="1.74" opacity="0.63"/>
<path d="M1598.0,935.7 Q1607.5,941.2 1617.0,946.8" stroke="#7fd48a" stroke-width="1.74" opacity="0.63"/>
<path d="M1598.0,935.7 Q1617.2,947.1 1619.6,969.3" stroke="#6fcfae" stroke-width="2.03" opacity="0.73"/>
<path d="M1494.9,933.0 Q1543.7,934.7 1585.7,959.5" stroke="#a3b9e2" stroke-width="1.59" opacity="0.53"/>
<path d="M1433.4,950.2 Q1487.9,933.8 1539.7,957.4" stroke="#a3b9e2" stroke-width="1.89" opacity="0.63"/>
<path d="M1433.4,950.2 Q1470.7,974.9 1515.0,968.4" stroke="#b9e26a" stroke-width="2.17" opacity="0.73"/>
<path d="M1433.4,950.2 Q1511.3,926.9 1585.7,959.5" stroke="#a3b9e2" stroke-width="1.74" opacity="0.53"/>
<path d="M1433.4,950.2 Q1523.6,987.6 1619.6,969.3" stroke="#b9e26a" stroke-width="1.89" opacity="0.63"/>
<path d="M1433.4,950.2 Q1556.0,1000.0 1685.0,970.1" stroke="#b9e26a" stroke-width="1.74" opacity="0.58"/>
<path d="M1433.4,950.2 Q1518.4,999.9 1616.1,986.9" stroke="#b9e26a" stroke-width="1.59" opacity="0.53"/>
<path d="M1433.4,950.2 Q1437.5,978.7 1441.5,1007.1" stroke="#b8c4cc" stroke-width="1.45" opacity="0.42"/>
<path d="M1515.0,968.4 Q1524.1,955.6 1539.7,957.4" stroke="#b9e26a" stroke-width="2.03" opacity="0.73"/>
<path d="M1515.0,968.4 Q1567.2,984.8 1619.6,969.3" stroke="#b9e26a" stroke-width="1.89" opacity="0.63"/>
<path d="M1515.0,968.4 Q1599.7,997.2 1685.0,970.1" stroke="#7fd48a" stroke-width="1.74" opacity="0.53"/>
<path d="M1515.0,968.4 Q1468.9,970.1 1441.5,1007.1" stroke="#6fcfae" stroke-width="1.59" opacity="0.53"/>
<path d="M1539.7,957.4 Q1563.2,946.5 1585.7,959.5" stroke="#a3b9e2" stroke-width="2.03" opacity="0.73"/>
<path d="M1539.7,957.4 Q1583.8,935.7 1619.6,969.3" stroke="#a3b9e2" stroke-width="1.74" opacity="0.63"/>
<path d="M1585.7,959.5 Q1602.7,964.4 1619.6,969.3" stroke="#6fcfae" stroke-width="2.90" opacity="0.84"/>
<path d="M1585.7,959.5 Q1638.3,937.0 1685.0,970.1" stroke="#6fcfae" stroke-width="2.03" opacity="0.63"/>
<path d="M1619.6,969.3 Q1652.5,953.7 1685.0,970.1" stroke="#6fcfae" stroke-width="2.32" opacity="0.73"/>
<path d="M1619.6,969.3 Q1643.8,983.5 1670.0,973.7" stroke="#a3b9e2" stroke-width="2.03" opacity="0.73"/>
<path d="M1619.6,969.3 Q1663.9,945.4 1703.0,977.2" stroke="#b8c4cc" stroke-width="1.59" opacity="0.53"/>
<path d="M1635.5,962.2 Q1662.1,954.3 1685.0,970.1" stroke="#7fd48a" stroke-width="1.89" opacity="0.63"/>
<path d="M1619.6,969.3 Q1617.8,978.1 1616.1,986.9" stroke="#a3b9e2" stroke-width="2.03" opacity="0.73"/>
<path d="M1619.6,969.3 Q1646.2,995.8 1683.6,992.2" stroke="#6fcfae" stroke-width="1.74" opacity="0.63"/>
<path d="M1685.0,970.1 Q1684.3,981.2 1683.6,992.2" stroke="#7fd48a" stroke-width="1.74" opacity="0.63"/>
<path d="M1326.0,994.7 Q1446.7,909.7 1585.7,959.5" stroke="#a3b9e2" stroke-width="1.89" opacity="0.58"/>
<path d="M1326.0,994.7 Q1423.9,924.8 1539.7,957.4" stroke="#a3b9e2" stroke-width="1.74" opacity="0.53"/>
<path d="M1364.4,1018.4 Q1436.3,942.6 1539.7,957.4" stroke="#a3b9e2" stroke-width="1.89" opacity="0.58"/>
<path d="M1364.4,1018.4 Q1467.8,961.9 1585.7,959.5" stroke="#b8c4cc" stroke-width="1.59" opacity="0.53"/>
<path d="M1441.5,1007.1 Q1508.6,968.1 1585.7,959.5" stroke="#a3b9e2" stroke-width="1.74" opacity="0.63"/>
<path d="M1416.9,1019.3 Q1524.2,1050.5 1616.1,986.9" stroke="#6b78c2" stroke-width="2.46" opacity="0.73"/>
<path d="M1364.4,1018.4 Q1497.7,1062.2 1616.1,986.9" stroke="#6b78c2" stroke-width="1.89" opacity="0.58"/>
<path d="M1339.9,1045.5 Q1498.3,1097.5 1627.6,992.2" stroke="#b8c4cc" stroke-width="1.74" opacity="0.53"/>
<path d="M1326.0,994.7 Q1465.2,894.3 1619.6,969.3" stroke="#b8c4cc" stroke-width="1.59" opacity="0.47"/>
<path d="M1433.4,950.2 Q1529.8,927.9 1619.6,969.3" stroke="#b8c4cc" stroke-width="1.45" opacity="0.42"/>
<path d="M1381.2,901.3 Q1514.7,885.3 1619.6,969.3" stroke="#b8c4cc" stroke-width="1.45" opacity="0.42"/>
<path d="M1439.5,869.2 Q1592.7,845.7 1685.0,970.1" stroke="#b8c4cc" stroke-width="1.45" opacity="0.47"/>
<path d="M1406.6,853.6 Q1590.2,830.5 1703.0,977.2" stroke="#b8c4cc" stroke-width="1.45" opacity="0.42"/>
<path d="M1370.4,883.2 Q1554.3,830.3 1685.0,970.1" stroke="#b8c4cc" stroke-width="1.45" opacity="0.37"/>
<path d="M1326.0,994.7 Q1348.4,1001.4 1364.4,1018.4" stroke="#6b78c2" stroke-width="2.32" opacity="0.73"/>
<path d="M1326.0,994.7 Q1332.8,999.8 1339.5,1004.9" stroke="#6b78c2" stroke-width="2.03" opacity="0.73"/>
<path d="M1294.5,1007.4 Q1310.2,1001.0 1326.0,994.7" stroke="#ece58a" stroke-width="1.74" opacity="0.63"/>
<path d="M1294.5,1007.4 Q1326.3,1032.7 1364.4,1018.4" stroke="#ece58a" stroke-width="1.74" opacity="0.63"/>
<path d="M1364.4,1018.4 Q1390.4,1030.8 1416.9,1019.3" stroke="#7fd48a" stroke-width="1.89" opacity="0.63"/>
<path d="M1364.4,1018.4 Q1400.0,993.0 1441.5,1007.1" stroke="#7fd48a" stroke-width="1.74" opacity="0.63"/>
<path d="M1364.4,1018.4 Q1352.2,1032.0 1339.9,1045.5" stroke="#7fd48a" stroke-width="1.59" opacity="0.53"/>
<path d="M1188.2,1073.8 Q1256.7,1020.3 1339.9,1045.5" stroke="#6fcfae" stroke-width="2.46" opacity="0.84"/>
<path d="M1188.2,1073.8 Q1272.1,1102.9 1339.9,1045.5" stroke="#6fcfae" stroke-width="2.17" opacity="0.79"/>
<path d="M1193.3,1039.4 Q1267.6,1018.5 1339.9,1045.5" stroke="#6fcfae" stroke-width="2.32" opacity="0.73"/>
<path d="M1188.2,1100.5 Q1275.0,1103.1 1339.9,1045.5" stroke="#7fd48a" stroke-width="2.03" opacity="0.63"/>
<path d="M1188.2,1073.8 Q1261.8,1047.9 1339.9,1045.5" stroke="#b8c4cc" stroke-width="1.45" opacity="0.53"/>
<path d="M1193.3,1039.4 Q1190.8,1056.6 1188.2,1073.8" stroke="#a3b9e2" stroke-width="1.89" opacity="0.73"/>
<path d="M1193.3,1039.4 Q1173.6,1045.5 1164.3,1063.9" stroke="#a3b9e2" stroke-width="1.74" opacity="0.63"/>
<path d="M1188.2,1073.8 Q1188.2,1087.2 1188.2,1100.5" stroke="#7fd48a" stroke-width="1.74" opacity="0.63"/>
<path d="M1079.6,973.3 Q1124.9,944.1 1175.5,962.5" stroke="#7fd48a" stroke-width="2.03" opacity="0.73"/>
<path d="M1079.6,973.3 Q1123.1,928.2 1175.5,962.5" stroke="#6fcfae" stroke-width="1.74" opacity="0.63"/>
<path d="M1079.6,973.3 Q1130.2,991.7 1175.5,962.5" stroke="#7fd48a" stroke-width="2.03" opacity="0.73"/>
<path d="M1079.6,973.3 Q1131.6,1003.7 1175.5,962.5" stroke="#6fcfae" stroke-width="1.74" opacity="0.63"/>
<path d="M1079.6,973.3 Q1129.3,981.9 1179.2,974.6" stroke="#ece58a" stroke-width="1.74" opacity="0.63"/>
<path d="M1020.7,978.2 Q1049.0,961.8 1079.6,973.3" stroke="#a3b9e2" stroke-width="1.74" opacity="0.63"/>
<path d="M1020.7,978.2 Q1051.3,989.7 1079.6,973.3" stroke="#a3b9e2" stroke-width="1.74" opacity="0.63"/>
<path d="M1193.6,961.2 Q1212.5,954.2 1228.0,967.0" stroke="#a3b9e2" stroke-width="1.74" opacity="0.63"/>
<path d="M1179.2,974.6 Q1205.4,982.7 1228.0,967.0" stroke="#ece58a" stroke-width="1.59" opacity="0.53"/>
<path d="M1157.0,994.2 Q1198.2,995.5 1228.0,967.0" stroke="#a3b9e2" stroke-width="1.59" opacity="0.53"/>
<path d="M1157.0,994.2 Q1168.1,984.4 1179.2,974.6" stroke="#ece58a" stroke-width="1.74" opacity="0.63"/>
<path d="M1079.6,973.3 Q1151.8,922.2 1228.0,967.0" stroke="#a3b9e2" stroke-width="1.45" opacity="0.47"/>
<path d="M1193.6,961.2 Q1266.5,924.3 1319.7,862.3" stroke="#ece58a" stroke-width="1.74" opacity="0.53"/>
<path d="M1228.0,967.0 Q1291.1,911.3 1370.4,883.2" stroke="#b8c4cc" stroke-width="1.45" opacity="0.42"/>
<path d="M1228.0,967.0 Q1312.5,952.5 1381.2,901.3" stroke="#b8c4cc" stroke-width="1.45" opacity="0.42"/>
<path d="M1175.5,962.5 Q1250.3,867.3 1370.4,883.2" stroke="#b8c4cc" stroke-width="1.45" opacity="0.42"/>
<path d="M1182.8,962.5 Q1218.3,941.4 1259.6,939.5" stroke="#b8c4cc" stroke-width="1.45" opacity="0.42"/>
<path d="M1120.3,929.0 Q1137.0,931.2 1153.8,933.5" stroke="#b8c4cc" stroke-width="1.45" opacity="0.42"/>
</g>
<g filter="url(#soft3)">
<circle cx="1308.3" cy="619.9" r="7" fill="#e4de22"/>
<circle cx="1312.6" cy="638.9" r="6.5" fill="#1fa088"/>
<circle cx="1330.7" cy="735.2" r="6" fill="#24878e"/>
<circle cx="1347" cy="749.3" r="6.5" fill="#5650ae"/>
<circle cx="1347.6" cy="762" r="6.5" fill="#3fbc73"/>
<circle cx="1388.3" cy="763.8" r="7.5" fill="#f4e32a"/>
<circle cx="1350.1" cy="794.4" r="8" fill="#9fd93a"/>
<circle cx="1384.3" cy="795.7" r="6.3" fill="#93d741"/>
<circle cx="1351.7" cy="807.1" r="6.5" fill="#2a8fa8"/>
<circle cx="1357.5" cy="821" r="8.5" fill="#94d840"/>
<circle cx="1366" cy="815.5" r="8.5" fill="#9bd93c"/>
<circle cx="1326.5" cy="821.2" r="10" fill="#b3dd2e"/>
<circle cx="1406.6" cy="853.6" r="6" fill="#ecdc25"/>
<circle cx="1319.7" cy="862.3" r="8" fill="#f1e121"/>
<circle cx="1334.1" cy="867.8" r="8" fill="#1f8a96"/>
<circle cx="1362.2" cy="867.8" r="6" fill="#5a86c0"/>
<circle cx="1371.3" cy="869.2" r="5" fill="#44b472"/>
<circle cx="1370.4" cy="883.2" r="11" fill="#35639a"/>
<circle cx="1439.5" cy="869.2" r="6.5" fill="#2a98b0"/>
<circle cx="1381.2" cy="901.3" r="8" fill="#3d6b9c"/>
<circle cx="1333.2" cy="900.7" r="6.5" fill="#1f9aa0"/>
<circle cx="1431" cy="904.9" r="6.5" fill="#4273b4"/>
<circle cx="1484.4" cy="905.8" r="8.5" fill="#52c452"/>
<circle cx="1309.7" cy="918.8" r="7" fill="#7cb81e"/>
<circle cx="1259.6" cy="939.5" r="7.8" fill="#21a583"/>
<circle cx="1237.1" cy="944.9" r="6" fill="#94da2e"/>
<circle cx="1494.9" cy="933" r="6" fill="#f6dc48"/>
<circle cx="1433.4" cy="950.2" r="8" fill="#f6e122"/>
<circle cx="1515" cy="968.4" r="8" fill="#84d228"/>
<circle cx="1555.6" cy="915.3" r="6.5" fill="#92da30"/>
<circle cx="1598" cy="935.7" r="6.5" fill="#22a490"/>
<circle cx="1617" cy="946.8" r="7" fill="#fbe123"/>
<circle cx="1539.7" cy="957.4" r="9" fill="#4483c2"/>
<circle cx="1557.8" cy="961.3" r="8" fill="#31b484"/>
<circle cx="1585.7" cy="959.5" r="12" fill="#2b8bab"/>
<circle cx="1619.6" cy="969.3" r="12" fill="#2199a2"/>
<circle cx="1635.5" cy="962.2" r="8" fill="#43c372"/>
<circle cx="1638.7" cy="971" r="7" fill="#5343a4"/>
<circle cx="1670" cy="973.7" r="6" fill="#5249b3"/>
<circle cx="1685" cy="970.1" r="9.5" fill="#43c463"/>
<circle cx="1703" cy="977.2" r="7.5" fill="#f6e232"/>
<circle cx="1616.1" cy="986.9" r="7" fill="#3a7ab2"/>
<circle cx="1627.6" cy="992.2" r="8" fill="#5342aa"/>
<circle cx="1640" cy="985.2" r="5" fill="#eae222"/>
<circle cx="1645.3" cy="990.5" r="6" fill="#433a92"/>
<circle cx="1687" cy="999" r="4.5" fill="#2c4a8c"/>
<circle cx="1683.6" cy="992.2" r="6.5" fill="#42c262"/>
<circle cx="1697" cy="997.5" r="6.5" fill="#eae222"/>
<circle cx="1120.3" cy="929" r="8.5" fill="#4c6eb2"/>
<circle cx="1153.8" cy="933.5" r="6" fill="#f2e222"/>
<circle cx="1175.5" cy="962.5" r="7" fill="#3bbd6a"/>
<circle cx="1182.8" cy="962.5" r="7" fill="#1fa38a"/>
<circle cx="1193.6" cy="961.2" r="6" fill="#5645b0"/>
<circle cx="1179.2" cy="974.6" r="6.5" fill="#f0e022"/>
<circle cx="1228" cy="967" r="8" fill="#7484ca"/>
<circle cx="1079.6" cy="973.3" r="6" fill="#32b262"/>
<circle cx="1020.7" cy="978.2" r="7" fill="#84d432"/>
<circle cx="1157" cy="994.2" r="7.5" fill="#f2e222"/>
<circle cx="1134.8" cy="1006.5" r="6.5" fill="#92e022"/>
<circle cx="1077.8" cy="1024" r="6" fill="#5242b2"/>
<circle cx="1069" cy="1028.6" r="5.5" fill="#f2e222"/>
<circle cx="1168.3" cy="1028.6" r="5" fill="#eadc22"/>
<circle cx="1175.5" cy="1021.3" r="8" fill="#21a282"/>
<circle cx="1193.3" cy="1039.4" r="5.5" fill="#2b92b2"/>
<circle cx="1164.3" cy="1063.9" r="6.5" fill="#42c252"/>
<circle cx="1161" cy="1084.7" r="6.5" fill="#eae022"/>
<circle cx="1168.3" cy="1078.3" r="7" fill="#4242a2"/>
<circle cx="1188.2" cy="1073.8" r="14" fill="#55c855"/>
<circle cx="1188.2" cy="1100.5" r="9" fill="#66ca3e"/>
<circle cx="1299.6" cy="1001.5" r="5" fill="#f0e030"/>
<circle cx="1294.5" cy="1007.4" r="6.5" fill="#42c262"/>
<circle cx="1323.8" cy="1003.7" r="6" fill="#1f9898"/>
<circle cx="1326" cy="994.7" r="9" fill="#4a3aa2"/>
<circle cx="1339.5" cy="1004.9" r="6.5" fill="#7262c2"/>
<circle cx="1364.4" cy="1018.4" r="9" fill="#21a982"/>
<circle cx="1422" cy="1013.3" r="5" fill="#8cd632"/>
<circle cx="1418.6" cy="1023.5" r="5" fill="#4cc24c"/>
<circle cx="1416.9" cy="1019.3" r="6" fill="#22a09a"/>
<circle cx="1441.5" cy="1007.1" r="6.5" fill="#1f88a0"/>
<circle cx="1339.9" cy="1045.5" r="13.5" fill="#72d282"/>
</g>
<g font-family="DejaVu Sans, Liberation Sans, sans-serif" fill="#20242c" fill-opacity="0.8" stroke="#20242c" stroke-opacity="0.3" stroke-width="0.3" filter="url(#softc)">
<text x="1268.8" y="622.4" font-size="8.35" textLength="81.1" lengthAdjust="spacingAndGlyphs">cappe, maximilien</text>
<text x="1284.7" y="641.4" font-size="8.18" textLength="56.2" lengthAdjust="spacingAndGlyphs">chen, haiyan</text>
<text x="1304.7" y="737.5" font-size="7.66" textLength="52.8" lengthAdjust="spacingAndGlyphs">aceto, paola</text>
<text x="1364.8" y="767.4" font-size="9.05" textLength="45.8" lengthAdjust="spacingAndGlyphs">wang, yu</text>
<text x="1324.6" y="799.3" font-size="9.05" textLength="50.2" lengthAdjust="spacingAndGlyphs">liu, meinv</text>
<text x="1307.0" y="823.7" font-size="10.09" textLength="37.7" lengthAdjust="spacingAndGlyphs">li, jianli</text>
<text x="1385.8" y="855.8" font-size="8.35" textLength="43.4" lengthAdjust="spacingAndGlyphs">he, chuan</text>
<text x="1287.4" y="865.4" font-size="8.87" textLength="64.9" lengthAdjust="spacingAndGlyphs">cao, jiangbei</text>
<text x="1325.1" y="885.3" font-size="10.09" textLength="90.9" lengthAdjust="spacingAndGlyphs">kotfis, katarzyna</text>
<text x="1334.0" y="904.7" font-size="9.57" textLength="90.7" lengthAdjust="spacingAndGlyphs">zukowski, maciej</text>
<text x="1439.2" y="909.5" font-size="9.22" textLength="87.8" lengthAdjust="spacingAndGlyphs">hung, kuo-chuan</text>
<text x="1274.8" y="922.2" font-size="7.66" textLength="72.0" lengthAdjust="spacingAndGlyphs">cho, yong joung</text>
<text x="1239.0" y="939.8" font-size="7.66" textLength="36.3" lengthAdjust="spacingAndGlyphs">chu, zhe</text>
<text x="1463.6" y="935.0" font-size="8.0" textLength="63.7" lengthAdjust="spacingAndGlyphs">park, soo jung</text>
<text x="1394.8" y="954.3" font-size="8.87" textLength="75.5" lengthAdjust="spacingAndGlyphs">lee, jong-hwan</text>
<text x="1495.0" y="971.7" font-size="8.0" textLength="47.7" lengthAdjust="spacingAndGlyphs">chen, yong</text>
<text x="1564.5" y="938.5" font-size="7.66" textLength="67.5" lengthAdjust="spacingAndGlyphs">badenes, rafael</text>
<text x="1545.4" y="963.0" font-size="11.83" textLength="79.6" lengthAdjust="spacingAndGlyphs">spies, claudia</text>
<text x="1667.3" y="973.2" font-size="8.87" textLength="33.7" lengthAdjust="spacingAndGlyphs">liu, tao</text>
<text x="1585.7" y="993.1" font-size="10.44" textLength="85.3" lengthAdjust="spacingAndGlyphs">dong, hongquan</text>
<text x="1678.0" y="1002.0" font-size="7.31" textLength="38.5" lengthAdjust="spacingAndGlyphs">wang, rui</text>
<text x="1084.1" y="931.8" font-size="9.22" textLength="67.9" lengthAdjust="spacingAndGlyphs">garcia, paul s.</text>
<text x="997.6" y="980.4" font-size="7.48" textLength="46.1" lengthAdjust="spacingAndGlyphs">ahn, jiimo</text>
<text x="1054.2" y="976.2" font-size="7.66" textLength="53.4" lengthAdjust="spacingAndGlyphs">ahn, eun-jin</text>
<text x="1153.5" y="967.4" font-size="8.7" textLength="44.7" lengthAdjust="spacingAndGlyphs">wang, ye</text>
<text x="1210.0" y="970.0" font-size="8.7" textLength="35.8" lengthAdjust="spacingAndGlyphs">sun, jie</text>
<text x="1130.3" y="997.7" font-size="9.05" textLength="52.1" lengthAdjust="spacingAndGlyphs">wang, jing</text>
<text x="1046.6" y="1030.4" font-size="7.48" textLength="47.1" lengthAdjust="spacingAndGlyphs">chen, jiang</text>
<text x="1152.9" y="1025.9" font-size="9.22" textLength="46.2" lengthAdjust="spacingAndGlyphs">wang, fei</text>
<text x="1158.3" y="1041.7" font-size="7.83" textLength="71.6" lengthAdjust="spacingAndGlyphs">huang, susheng</text>
<text x="1159.2" y="1078.0" font-size="12.53" textLength="63.4" lengthAdjust="spacingAndGlyphs">wang, jian</text>
<text x="1153.8" y="1097.1" font-size="9.92" textLength="66.1" lengthAdjust="spacingAndGlyphs">shi, zhanjun</text>
<text x="1292.8" y="998.7" font-size="9.22" textLength="66.5" lengthAdjust="spacingAndGlyphs">pol, robert a.</text>
<text x="1321.8" y="1020.4" font-size="9.22" textLength="82.9" lengthAdjust="spacingAndGlyphs">chaiwat, onuma</text>
<text x="1409.8" y="1009.1" font-size="8.18" textLength="62.6" lengthAdjust="spacingAndGlyphs">al tmimi, layth</text>
<text x="1300.0" y="1050.2" font-size="13.05" textLength="79.7" lengthAdjust="spacingAndGlyphs">zhang, yang</text>
</g>
<g filter="url(#soft2)"><rect x="961" y="1107.5" width="105" height="36" rx="5" fill="#fff" stroke="#e4e4e8" stroke-width="1.3"/>
<g transform="translate(961,1110.71) scale(0.87)">
<path d="M18.8,6.4 L21.5,11 L24.5,17.5 L31,19.8 L30.2,23 L23,22.6 L19.2,16.5 L16.8,21 L17,26 L11.5,26.6 L12,20 L15.4,12.5Z" fill="#48d2aa"/>
<rect x="11.6" y="20.4" width="5.2" height="6" rx="1" fill="#5cd65a"/>
<ellipse cx="18.7" cy="13.6" rx="1.7" ry="2.3" fill="#e0452a"/>
</g></g>
<text x="991.5" y="1129.5" font-family="DejaVu Sans, Liberation Sans, sans-serif" font-size="10.4" fill="#666" textLength="63.5" lengthAdjust="spacingAndGlyphs" filter="url(#soft)">VOSviewer</text>
<g filter="url(#soft2)"><rect x="1522.3" y="1106.6" width="238.7" height="37" rx="6" fill="#fff" stroke="#e4e4ea" stroke-width="1.3"/>
<rect x="1529.2" y="1113.3" width="224.8" height="12.7" fill="url(#vir)"/>
<line x1="1540.2" x2="1540.2" y1="1122" y2="1129.5" stroke="#777" stroke-width="0.8" opacity="0.6"/>
<line x1="1608.2" x2="1608.2" y1="1122" y2="1129.5" stroke="#777" stroke-width="0.8" opacity="0.6"/>
<line x1="1674.7" x2="1674.7" y1="1122" y2="1129.5" stroke="#777" stroke-width="0.8" opacity="0.6"/>
<line x1="1741.7" x2="1741.7" y1="1122" y2="1129.5" stroke="#777" stroke-width="0.8" opacity="0.6"/>
</g>
<g font-family="DejaVu Sans, Liberation Sans, sans-serif" font-size="8.3" fill="#555" text-anchor="middle" filter="url(#soft)">
<text x="1540.2" y="1140">2018</text>
<text x="1608.2" y="1140">2020</text>
<text x="1674.7" y="1140">2022</text>
<text x="1741.7" y="1140">2024</text>
</g>
</g>
</svg>
</body></html>
